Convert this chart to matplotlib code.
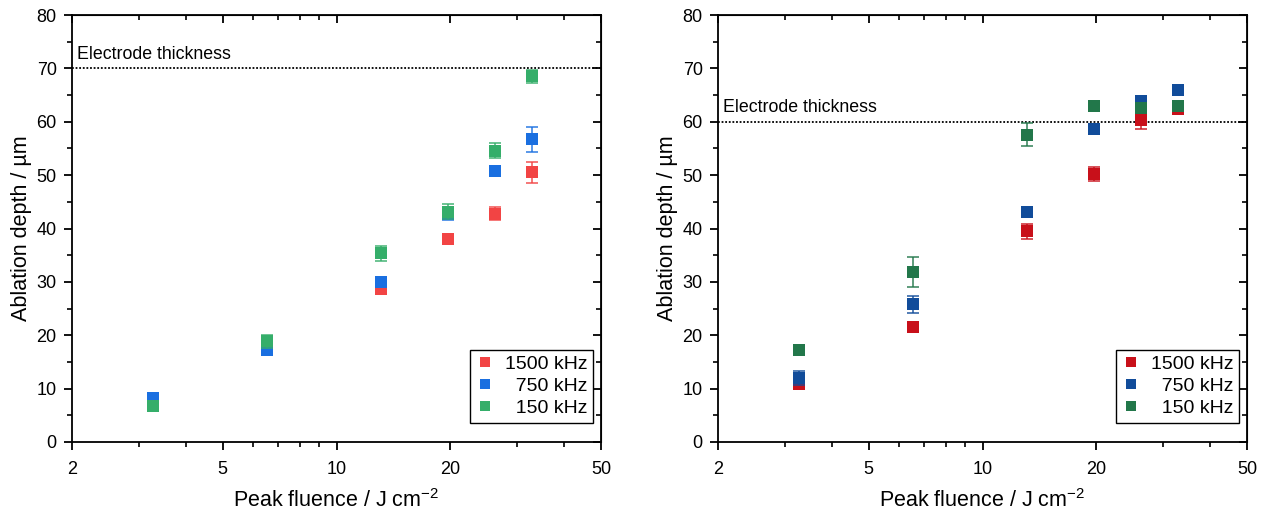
import matplotlib
matplotlib.use("Agg")
import matplotlib.pyplot as plt
from matplotlib.lines import Line2D
import numpy as np

plt.rcParams['font.family'] = ['Liberation Sans', 'DejaVu Sans']
plt.rcParams['mathtext.fontset'] = 'custom'
plt.rcParams['mathtext.rm'] = 'Liberation Sans'
plt.rcParams['mathtext.it'] = 'Liberation Sans'
plt.rcParams['mathtext.default'] = 'regular'

fluence = [3.27, 6.55, 13.1, 19.7, 26.2, 32.8]
labels = ["1500 kHz", "  750 kHz", "  150 kHz"]

# left panel
left_1500 = [8.0, 17.2, 28.6, 38.1, 42.8, 50.5]
left_1500_err = [0.5, 0.6, 0.5, 0.6, 1.2, 2.0]
left_750 = [8.3, 17.2, 30.0, 42.8, 50.7, 56.7]
left_750_err = [0.5, 0.6, 0.5, 1.3, 0.8, 2.4]
left_150 = [6.7, 18.9, 35.4, 43.1, 54.6, 68.5]
left_150_err = [0.5, 1.2, 1.4, 1.4, 1.4, 1.2]
left_thickness = 70

# right panel
right_1500 = [10.9, 21.5, 39.5, 50.2, 60.3, 62.3]
right_1500_err = [0.9, 0.8, 1.4, 1.3, 1.6, 0.5]
right_750 = [12.0, 25.8, 43.1, 58.7, 63.8, 65.9]
right_750_err = [1.3, 1.6, 0.5, 0.8, 0.5, 0.5]
right_150 = [17.3, 31.9, 57.6, 63.0, 62.6, 63.0]
right_150_err = [0.5, 2.8, 2.1, 0.3, 0.7, 0.5]
right_thickness = 60

left_colors = ['#F24444', '#1A6FE0', '#35AE6A']
right_colors = ['#C8101A', '#114C9A', '#22774A']

fig = plt.figure(figsize=(12.7, 5.15), dpi=100)
axL = fig.add_axes([72/1270, 1-442/515, 529/1270, 427/515])
axR = fig.add_axes([718/1270, 1-442/515, 529/1270, 427/515])

def draw(ax, series, errs, colors, thick):
    handles = []
    for y, e, c, lab in zip(series, errs, colors, labels):
        ax.errorbar(fluence, y, yerr=e, fmt='none', ecolor=c,
                    capsize=4, elinewidth=1.2, capthick=1.2, alpha=0.85)
        ax.plot(fluence, y, 's', color=c, ms=8.3, mew=0, ls='none')
        handles.append(Line2D([], [], marker='s', color=c, ms=7, mew=0, ls='none', label=lab))
    ax.axhline(thick, color='black', ls=(0, (1, 1)), lw=1.3, zorder=1)
    ax.text(2.06, thick + 1.1, 'Electrode thickness', fontsize=12.8, ha='left', va='bottom')
    ax.set_xscale('log')
    ax.set_xlim(2, 50)
    ax.set_ylim(0, 80)
    ax.set_xticks([2, 5, 10, 20, 50])
    ax.set_xticklabels(['2', '5', '10', '20', '50'])
    ax.xaxis.set_minor_locator(matplotlib.ticker.LogLocator(base=10, subs=np.arange(2, 10)))
    ax.xaxis.set_minor_formatter(matplotlib.ticker.NullFormatter())
    ax.set_yticks(np.arange(0, 81, 10))
    ax.set_yticks(np.arange(5, 80, 10), minor=True)
    ax.tick_params(axis='both', which='major', labelsize=13, length=6, width=1.3, direction='out')
    ax.tick_params(axis='both', which='minor', length=3.5, width=1.2, direction='out')
    ax.tick_params(axis='x', which='major', pad=8)
    ax.tick_params(axis='y', which='major', pad=5)
    for s in ax.spines.values():
        s.set_linewidth(1.3)
    axt = ax.secondary_xaxis('top')
    axt.set_xticks([2, 5, 10, 20, 50])
    axt.xaxis.set_minor_locator(matplotlib.ticker.LogLocator(base=10, subs=np.arange(2, 10)))
    axt.xaxis.set_minor_formatter(matplotlib.ticker.NullFormatter())
    axt.tick_params(axis='x', which='major', direction='in', length=6, width=1.3, labeltop=False)
    axt.tick_params(axis='x', which='minor', direction='in', length=3.5, width=1.2)
    axt.set_xticklabels([])
    axr = ax.secondary_yaxis('right')
    axr.set_yticks(np.arange(0, 81, 10))
    axr.set_yticks(np.arange(5, 80, 10), minor=True)
    axr.tick_params(axis='y', which='major', direction='in', length=6, width=1.3)
    axr.tick_params(axis='y', which='minor', direction='in', length=3.5, width=1.2)
    axr.set_yticklabels([])
    ax.set_xlabel('Peak fluence / J cm$^{\\mathregular{-2}}$', fontsize=15.5, labelpad=8)
    ax.set_ylabel('Ablation depth / µm', fontsize=15.5, labelpad=3)
    leg = ax.legend(handles=handles, loc='lower right', bbox_to_anchor=(0.985, 0.045), fontsize=14,
                    frameon=True, fancybox=False, edgecolor='black', framealpha=1,
                    handletextpad=0.5, borderpad=0.3, labelspacing=0.22,
                    handlelength=1.0, borderaxespad=0)
    leg.get_frame().set_linewidth(1.0)

draw(axL, [left_1500, left_750, left_150], [left_1500_err, left_750_err, left_150_err],
     left_colors, left_thickness)
draw(axR, [right_1500, right_750, right_150], [right_1500_err, right_750_err, right_150_err],
     right_colors, right_thickness)

fig.savefig('out.png', dpi=100)
